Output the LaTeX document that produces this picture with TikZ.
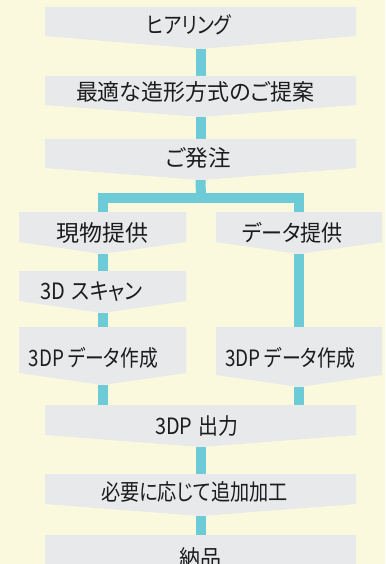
\documentclass[tikz,border=0pt]{standalone}
\usepackage{fontspec}
\setmainfont{Noto Sans CJK JP}[RawFeature=+palt]
\usetikzlibrary{backgrounds}
\definecolor{bgcream}{RGB}{250,249,222}
\definecolor{boxgrey}{RGB}{232,233,235}
\definecolor{connteal}{RGB}{108,203,215}
\definecolor{txt}{RGB}{28,28,28}
\tikzset{
  conn/.style={draw=connteal, line width=10pt, line cap=butt, line join=miter},
  lbl/.style={inner sep=0pt, anchor=center, text=txt, font=\fontsize{22.5}{26}\selectfont}
}
% fit text horizontally to a given width (pt), keep its height
\newsavebox{\fitbox}
\newcommand{\fitw}[2]{\sbox{\fitbox}{#2}\pgfmathsetmacro{\fitsx}{#1/(\wd\fitbox/1pt)}\scalebox{\fitsx}[1]{\usebox{\fitbox}}}
% #1 name, #2 x1, #3 x2, #4 top, #5 side bottom, #6 tip
\newcommand{\flowbox}[6]{%
  \fill[boxgrey] (#2,#4) -- (#3,#4) -- (#3,#5) -- ({(#2+#3)/2},#6) -- (#2,#5) -- cycle;
  \coordinate (#1-top) at ({(#2+#3)/2},#4);
  \coordinate (#1-tip) at ({(#2+#3)/2},#6);
}
\begin{document}
\begin{tikzpicture}[x=1pt,y=-1pt]
\useasboundingbox (0,0) rectangle (385,564);
\clip (0,0) rectangle (385,564);
\begin{scope}[on background layer]
  \fill[bgcream] (0,0) rectangle (385,564);
\end{scope}
% boxes
\flowbox{b1}{45}{356}{7}{36}{49}
\flowbox{b2}{45}{356}{76}{105}{117}
\flowbox{b3}{45}{356}{139}{168}{180}
\flowbox{l1}{19}{186}{212}{242}{254}
\flowbox{r1}{216}{382}{212}{242}{254}
\flowbox{l2}{19}{186}{271}{301}{313}
\flowbox{l3}{19}{186}{327}{373}{385}
\flowbox{r3}{216}{382}{327}{375}{387}
\flowbox{b4}{45}{356}{405}{435}{447}
\flowbox{b5}{45}{356}{474}{504}{516}
\fill[boxgrey] (45,535) rectangle (356,580);
\coordinate (b6-top) at (200.5,535);
% labels
\node[lbl] (t1) at (189,25) {\fitw{84}{ヒアリング}};
\node[lbl] (t2) at (195,92) {\fitw{238}{最適な造形方式のご提案}};
\node[lbl] (t3) at (198.5,158) {\fitw{65}{ご発注}};
\node[lbl] (t4) at (102,233) {\fitw{92}{現物提供}};
\node[lbl] (t5) at (292.5,233) {\fitw{101}{データ提供}};
\node[lbl] (t6) at (91.7,292) {\fitw{102}{3D\hspace{0.3em}スキャン}};
\node[lbl] (t7) at (93.3,358) {\fitw{129}{3DP\hspace{0.2em}データ作成}};
\node[lbl] (t8) at (290.2,358) {\fitw{130}{3DP\hspace{0.2em}データ作成}};
\node[lbl] (t9) at (196.5,426) {\fitw{83}{3DP\hspace{0.3em}出力}};
\node[lbl] (t10) at (194.5,491.5) {\fitw{187}{必要に応じて追加加工}};
\node[lbl] (t11) at (200,558) {\fitw{42}{納品}};
% connectors
\begin{scope}[on background layer]
  \coordinate (split) at (201,197.5);
  \draw[conn] (b1-tip) -- (b2-top);
  \draw[conn] (b2-tip) -- (b3-top);
  \draw[conn] (b3-tip) -- (split);
  \draw[conn] (l1-top) -- (l1-top |- split) -- (r1-top |- split) -- (r1-top);
  \draw[conn] (l1-tip) -- (l2-top);
  \draw[conn] (l2-tip) -- (l3-top);
  \draw[conn] (r1-tip) -- (r3-top);
  \draw[conn] (l3-tip) -- (l3-tip |- b4-top);
  \draw[conn] (r3-tip) -- (r3-tip |- b4-top);
  \draw[conn] (b4-tip) -- (b5-top);
  \draw[conn] (b5-tip) -- (b6-top);
\end{scope}
\end{tikzpicture}
\end{document}
